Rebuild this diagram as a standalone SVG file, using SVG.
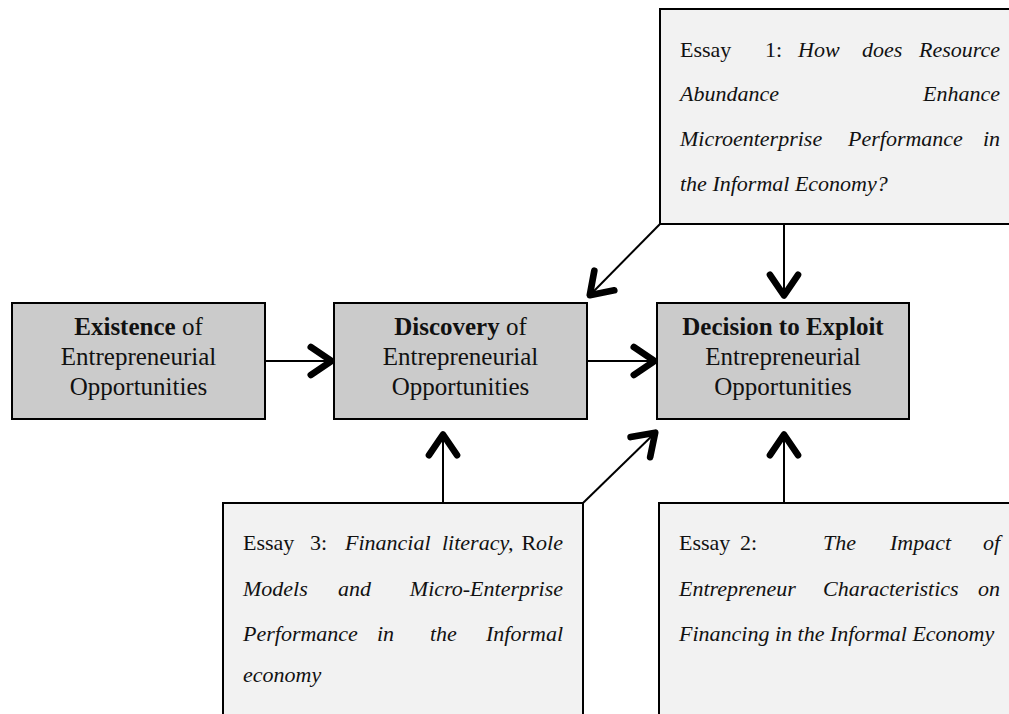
<svg xmlns="http://www.w3.org/2000/svg" width="1009" height="714" viewBox="0 0 1009 714">
<style>
  .main { fill: #cbcbcb; stroke: #000; stroke-width: 2; }
  .essay { fill: #f2f2f2; stroke: #000; stroke-width: 2; }
  .t { font-family: "Liberation Serif", "Times New Roman", serif; fill: #111; }
  .mt { font-size: 25px; text-anchor: middle; }
  .et { font-size: 22px; }
  .i { font-style: italic; }
  .b { font-weight: bold; }
  .conn line { stroke: #000; stroke-width: 2; fill: none; marker-end: url(#ah); }
</style>
<defs>
  <marker id="ah" markerUnits="userSpaceOnUse" markerWidth="40" markerHeight="40" viewBox="-25 -15 30 30" refX="-2.5" refY="0" orient="auto" overflow="visible">
    <path d="M-18,-10.5 L-2.5,0 L-18,10.5" fill="none" stroke="#000" stroke-width="5" stroke-linecap="round" stroke-linejoin="round"/>
  </marker>
</defs>
<rect width="1009" height="714" fill="#fff"/>

<g id="essay1">
  <rect class="essay" x="660" y="9" width="360" height="215"/>
  <text class="t et" y="57"><tspan x="680">Essay</tspan><tspan x="765">1:</tspan><tspan x="798" class="i">How</tspan><tspan x="862" class="i">does</tspan></text>
  <text class="t et i" x="1000" y="57" text-anchor="end">Resource</text>
  <text class="t et i" x="680" y="101">Abundance</text>
  <text class="t et i" x="1000" y="101" text-anchor="end">Enhance</text>
  <text class="t et i" y="146"><tspan x="680">Microenterprise</tspan><tspan x="848">Performance</tspan></text>
  <text class="t et i" x="1000" y="146" text-anchor="end">in</text>
  <text class="t et i" x="680" y="191">the Informal Economy?</text>
</g>

<g id="existence">
  <rect class="main" x="12" y="303" width="253" height="116"/>
  <text class="t mt" x="138.5" y="335"><tspan class="b">Existence</tspan> of</text>
  <text class="t mt" x="138.5" y="365">Entrepreneurial</text>
  <text class="t mt" x="138.5" y="395">Opportunities</text>
</g>

<g id="discovery">
  <rect class="main" x="334" y="303" width="253" height="116"/>
  <text class="t mt" x="460.5" y="335"><tspan class="b">Discovery</tspan> of</text>
  <text class="t mt" x="460.5" y="365">Entrepreneurial</text>
  <text class="t mt" x="460.5" y="395">Opportunities</text>
</g>

<g id="decision">
  <rect class="main" x="657" y="303" width="252" height="116"/>
  <text class="t mt b" x="783" y="335">Decision to Exploit</text>
  <text class="t mt" x="783" y="365">Entrepreneurial</text>
  <text class="t mt" x="783" y="395">Opportunities</text>
</g>

<g id="essay3">
  <rect class="essay" x="223" y="503" width="360" height="230"/>
  <text class="t et" y="550"><tspan x="243">Essay</tspan><tspan x="310">3:</tspan><tspan x="345" class="i">Financial</tspan><tspan x="442" class="i">literacy,</tspan></text>
  <text class="t et" x="563" y="550" text-anchor="end">R<tspan class="i">ole</tspan></text>
  <text class="t et i" y="596"><tspan x="243">Models</tspan><tspan x="338">and</tspan></text>
  <text class="t et i" x="563" y="596" text-anchor="end">Micro-Enterprise</text>
  <text class="t et i" y="641"><tspan x="243">Performance</tspan><tspan x="377">in</tspan><tspan x="430">the</tspan></text>
  <text class="t et i" x="563" y="641" text-anchor="end">Informal</text>
  <text class="t et i" x="243" y="682">economy</text>
</g>

<g id="essay2">
  <rect class="essay" x="659" y="503" width="360" height="230"/>
  <text class="t et" y="550"><tspan x="679">Essay</tspan><tspan x="740">2:</tspan><tspan x="823" class="i">The</tspan><tspan x="890" class="i">Impact</tspan></text>
  <text class="t et i" x="1000" y="550" text-anchor="end">of</text>
  <text class="t et i" y="596"><tspan x="679">Entrepreneur</tspan><tspan x="823">Characteristics</tspan></text>
  <text class="t et i" x="1000" y="596" text-anchor="end">on</text>
  <text class="t et i" x="679" y="641">Financing in the Informal Economy</text>
</g>

<g id="connectors" class="conn">
  <line x1="265" y1="361" x2="331.5" y2="361"/>
  <line x1="587" y1="361" x2="654.5" y2="361"/>
  <line x1="784" y1="224" x2="784" y2="295.5"/>
  <line x1="660" y1="224" x2="589.8" y2="295.2"/>
  <line x1="443" y1="503" x2="443" y2="434.5"/>
  <line x1="583" y1="503" x2="655.2" y2="432.7"/>
  <line x1="784" y1="503" x2="784" y2="434.5"/>
</g>
</svg>
